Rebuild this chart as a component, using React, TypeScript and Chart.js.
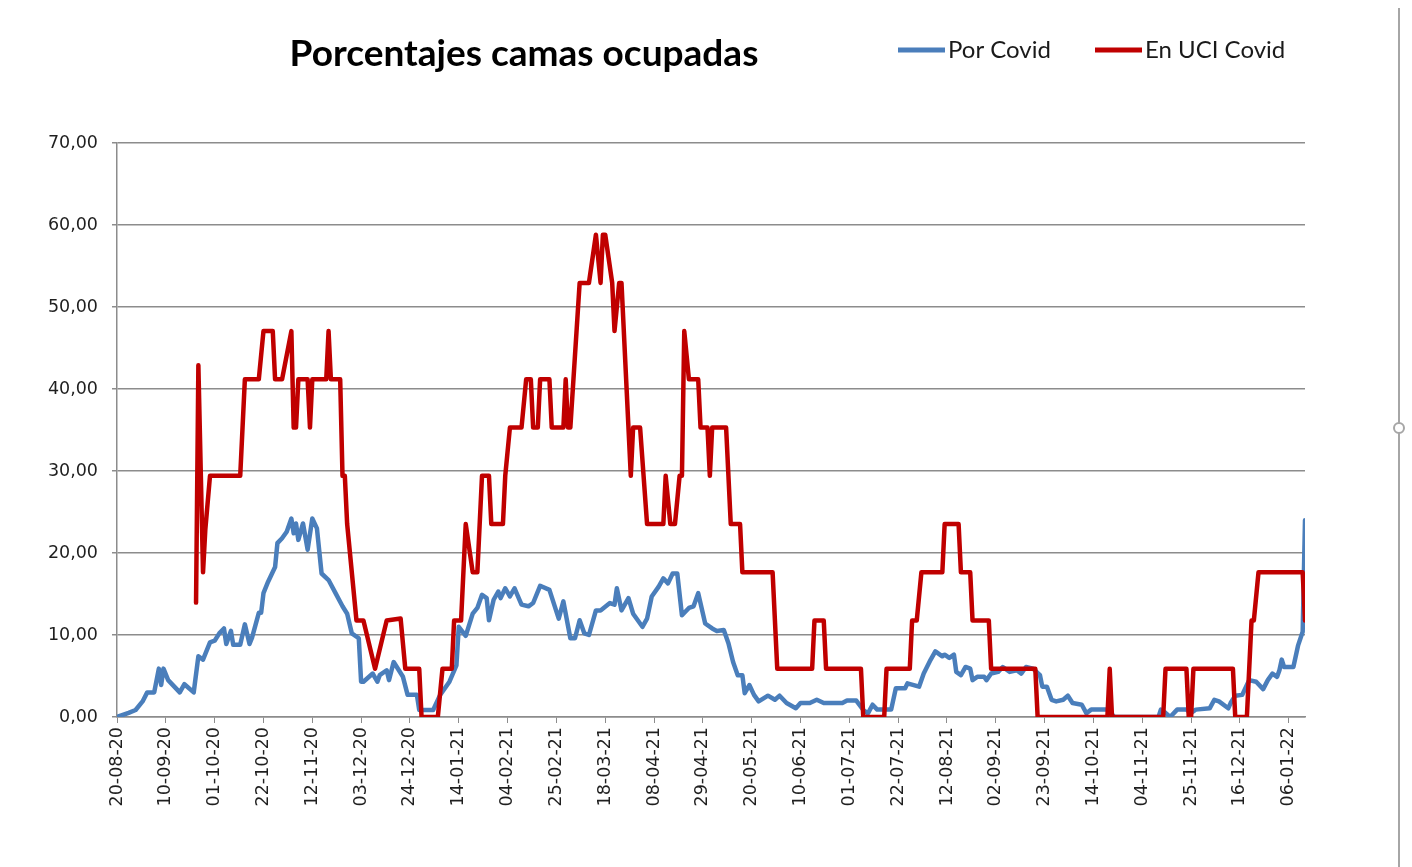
import React, { useEffect, useRef } from "react";
import { Chart, registerables } from "chart.js";

Chart.register(...registerables);

const TITLE = "Porcentajes camas ocupadas";
const SERIES_NAMES = ["Por Covid", "En UCI Covid"];
const SERIES_COLORS = ["#4A7EBB", "#C00000"];

// x axis: days since 20-08-20
const tickDays = [0, 21, 42, 63, 84, 105, 126, 147, 168, 189, 210, 231, 252, 273, 294, 315, 336, 357, 378, 399, 420, 441, 462, 483, 504];
const tickLabels = [
  "20-08-20", "10-09-20", "01-10-20", "22-10-20", "12-11-20", "03-12-20", "24-12-20",
  "14-01-21", "04-02-21", "25-02-21", "18-03-21", "08-04-21", "29-04-21", "20-05-21",
  "10-06-21", "01-07-21", "22-07-21", "12-08-21", "02-09-21", "23-09-21", "14-10-21",
  "04-11-21", "25-11-21", "16-12-21", "06-01-22",
];
const yTicks = [0, 10, 20, 30, 40, 50, 60, 70];

// Series 1: Por Covid
const porCovidDays = [
  0, 5, 8, 11, 13, 16, 18, 19, 20, 22, 27, 29, 33, 35, 37, 40, 42, 44, 46, 47, 49, 50, 53, 55, 57, 58,
  61, 62, 63, 65, 68, 69, 71, 73, 75, 76, 77, 78, 80, 82, 84, 86, 88, 91, 94, 97, 99, 101, 104, 105,
  106, 110, 112, 113, 116, 117, 119, 123, 125, 129, 130, 136, 139, 143, 146, 147, 150, 153, 155, 157,
  159, 160, 162, 164, 165, 167, 169, 171, 174, 177, 179, 182, 186, 190, 192, 195, 197, 199, 201, 203,
  206, 208, 212, 214, 215, 217, 220, 222, 226, 228, 230, 233, 235, 237, 239, 241, 243, 246, 248, 250,
  253, 256, 258, 261, 263, 265, 267, 269, 270, 272, 274, 276, 280, 283, 285, 288, 292, 294, 298, 301,
  304, 312, 314, 318, 321, 323, 325, 327, 333, 335, 339, 340, 345, 347, 350, 352, 355, 356, 358, 360,
  361, 363, 365, 367, 368, 370, 373, 374, 376, 379, 381, 384, 387, 389, 391, 394, 397, 398, 400, 402,
  404, 407, 409, 411, 415, 417, 419, 426, 427, 429, 448, 449, 451, 453, 456, 460, 462, 464, 470, 472,
  474, 478, 479, 481, 484, 486, 487, 490, 493, 495, 497, 499, 500, 501, 502, 506, 508, 510, 511,
];
const porCovidValues = [
  0, 0.5, 0.85, 1.9, 3.0, 3.0, 5.9, 3.9, 5.9, 4.5, 3.0, 4.0, 3.0, 7.4, 7.0, 9.1, 9.3, 10.2, 10.8, 8.9, 10.5, 8.8, 8.8, 11.3, 8.9, 9.6,
  12.7, 12.7, 15.1, 16.5, 18.3, 21.2, 21.8, 22.6, 24.2, 22.4, 23.6, 21.6, 23.6, 20.4, 24.2, 23.0, 17.5, 16.7, 15.1, 13.5, 12.6, 10.2, 9.6, 4.3,
  4.3, 5.3, 4.3, 5.1, 5.7, 4.5, 6.7, 4.9, 2.7, 2.7, 0.85, 0.85, 2.7, 4.3, 6.3, 11.0, 9.9, 12.6, 13.3, 14.9,
  14.5, 11.8, 14.3, 15.3, 14.5, 15.7, 14.7, 15.7, 13.7, 13.5, 13.9, 16.0, 15.5, 12.0, 14.1, 9.6, 9.6, 11.8, 10.2, 10.0,
  13.0, 13.0, 13.9, 13.7, 15.7, 13.0, 14.5, 12.6, 11.0, 12.0, 14.7, 15.9, 16.9, 16.3, 17.5, 17.5, 12.4, 13.3, 13.5, 15.1,
  11.4, 10.8, 10.5, 10.6, 9.0, 6.7, 5.1, 5.1, 2.9, 3.9, 2.7, 1.9, 2.6, 2.1, 2.6, 1.7, 1.06, 1.7, 1.7, 2.1,
  1.7, 1.7, 2.0, 2.0, 0.85, 0.45, 1.5, 0.9, 0.9, 3.5, 3.5, 4.1, 3.7, 5.3, 7.0, 8.0, 7.4, 7.6, 7.2, 7.6,
  5.5, 5.1, 6.1, 5.9, 4.5, 4.9, 4.9, 4.5, 5.3, 5.5, 6.1, 5.5, 5.7, 5.3, 6.1, 5.9, 5.1, 3.7, 3.7, 2.1,
  1.9, 2.1, 2.6, 1.7, 1.5, 0.45, 0.9, 0.9, 0.65, 0, 0, 0.9, 0.5, 0, 0.9, 0.9, 0.5, 0.9, 1.06, 2.1,
  1.9, 1.06, 1.7, 2.6, 2.7, 3.9, 4.5, 4.3, 3.4, 4.5, 5.3, 4.9, 5.7, 7.0, 6.1, 6.1, 8.7, 10.4, 24.0,
];

// Series 2: En UCI Covid
const uciDays = [
  34, 35, 37, 38, 40, 53, 55, 61, 63, 67, 68, 71, 75, 76, 77, 78, 82, 83, 84, 90, 91, 92, 96, 97,
  98, 99, 103, 106, 111, 116, 122, 124, 130, 131, 138, 140, 144, 145, 148, 150, 153, 155, 157, 160,
  161, 166, 167, 169, 174, 176, 178, 179, 181, 182, 186, 187, 192, 193, 194, 195, 199, 203, 206, 208,
  209, 210, 213, 214, 216, 217, 221, 222, 225, 228, 235, 236, 238, 240, 242, 243, 244, 246, 250, 251,
  254, 255, 256, 262, 264, 268, 269, 282, 284, 299, 300, 304, 305, 320, 321, 330, 331, 341, 342, 344,
  346, 355, 356, 362, 363, 367, 368, 375, 376, 395, 396, 426, 427, 428, 450, 451, 460, 461, 462, 463,
  480, 481, 486, 488, 489, 491, 510, 511,
];
const uciValues = [
  13.95, 42.9, 17.65, 22.9, 29.41, 29.41, 41.18, 41.18, 47.06, 47.06, 41.18, 41.18, 47.06, 35.29, 35.29, 41.18, 41.18, 35.29, 41.18, 41.18, 47.06, 41.18, 41.18, 29.41,
  29.41, 23.53, 11.76, 11.76, 5.88, 11.76, 12.0, 5.88, 5.88, 0, 0, 5.88, 5.88, 11.76, 11.76, 23.53, 17.65, 17.65, 29.41, 29.41,
  23.53, 23.53, 29.41, 35.29, 35.29, 41.18, 41.18, 35.29, 35.29, 41.18, 41.18, 35.29, 35.29, 41.18, 35.29, 35.29, 52.94, 52.94, 58.82, 52.94,
  58.82, 58.82, 52.94, 47.06, 52.94, 52.94, 29.41, 35.29, 35.29, 23.53, 23.53, 29.41, 23.53, 23.53, 29.41, 29.41, 47.06, 41.18, 41.18, 35.29,
  35.29, 29.41, 35.29, 35.29, 23.53, 23.53, 17.65, 17.65, 5.88, 5.88, 11.76, 11.76, 5.88, 5.88, 0, 0, 5.88, 5.88, 11.76, 11.76,
  17.65, 17.65, 23.53, 23.53, 17.65, 17.65, 11.76, 11.76, 5.88, 5.88, 0, 0, 5.88, 0, 0, 5.88, 5.88, 0, 0, 5.88,
  5.88, 0, 0, 11.76, 11.76, 17.65, 17.65, 11.76,
];

const toPoints = (days: number[], values: number[]) => days.map((d, i) => ({ x: d, y: values[i] }));

const W = 1412;
const H = 867;

const overlayPlugin = {
  id: "overlay",
  afterDraw(chart: any) {
    const ctx = chart.ctx as CanvasRenderingContext2D;
    ctx.save();
    // Title
    ctx.fillStyle = "#000000";
    ctx.font = "bold 37px Lato";
    ctx.textAlign = "center";
    ctx.textBaseline = "alphabetic";
    ctx.fillText(TITLE, 524, 66);
    // Legend
    const legendItems = [
      { x: 898, name: SERIES_NAMES[0], color: SERIES_COLORS[0] },
      { x: 1095, name: SERIES_NAMES[1], color: SERIES_COLORS[1] },
    ];
    ctx.font = "24px Lato";
    ctx.textAlign = "left";
    for (const it of legendItems) {
      ctx.strokeStyle = it.color;
      ctx.lineWidth = 5;
      ctx.lineCap = "butt";
      ctx.beginPath();
      ctx.moveTo(it.x, 50);
      ctx.lineTo(it.x + 47, 50);
      ctx.stroke();
      ctx.fillStyle = "#1a1a1a";
      ctx.fillText(it.name, it.x + 50, 58);
    }
    // Sheet frame line and handle on the right
    ctx.strokeStyle = "#a6a6a6";
    ctx.lineWidth = 2;
    ctx.beginPath();
    ctx.moveTo(1399, 8);
    ctx.lineTo(1399, H);
    ctx.stroke();
    ctx.fillStyle = "#ffffff";
    ctx.beginPath();
    ctx.arc(1399, 428, 5, 0, Math.PI * 2);
    ctx.fill();
    ctx.stroke();
    ctx.restore();
  },
};

export default function App() {
  const canvasRef = useRef<HTMLCanvasElement | null>(null);

  useEffect(() => {
    const canvas = canvasRef.current;
    if (!canvas) return;
    const chart = new Chart(canvas, {
      type: "line",
      data: {
        datasets: [
          {
            label: SERIES_NAMES[0],
            data: toPoints(porCovidDays, porCovidValues),
            borderColor: SERIES_COLORS[0],
            backgroundColor: SERIES_COLORS[0],
            borderWidth: 4.5,
            pointRadius: 0,
            tension: 0,
            borderJoinStyle: "round",
            borderCapStyle: "round",
            order: 2,
          },
          {
            label: SERIES_NAMES[1],
            data: toPoints(uciDays, uciValues),
            borderColor: SERIES_COLORS[1],
            backgroundColor: SERIES_COLORS[1],
            borderWidth: 4.5,
            pointRadius: 0,
            tension: 0,
            borderJoinStyle: "round",
            borderCapStyle: "round",
            order: 1,
          },
        ],
      },
      options: {
        responsive: false,
        animation: false,
        devicePixelRatio: 1,
        layout: { padding: { top: 143, right: 107, left: 0, bottom: 0 } },
        plugins: {
          legend: { display: false },
          title: { display: false },
          tooltip: { enabled: false },
        },
        scales: {
          x: {
            type: "linear",
            min: 0,
            max: 511,
            afterBuildTicks: (scale: any) => {
              scale.ticks = tickDays.map((v) => ({ value: v }));
            },
            afterFit: (scale: any) => {
              scale.height = 150;
            },
            grid: {
              display: true,
              drawOnChartArea: false,
              drawTicks: true,
              tickLength: 6,
              color: "#8c8c8c",
            },
            border: { display: true, color: "#8c8c8c", width: 1.5 },
            ticks: {
              autoSkip: false,
              minRotation: 90,
              maxRotation: 90,
              padding: 4,
              color: "#1f1f1f",
              font: { family: "DejaVu Sans", size: 17.5 },
              callback: (value: any) => {
                const i = tickDays.indexOf(Number(value));
                return i >= 0 ? tickLabels[i] : "";
              },
            },
          },
          y: {
            type: "linear",
            min: 0,
            max: 70,
            afterBuildTicks: (scale: any) => {
              scale.ticks = yTicks.map((v) => ({ value: v }));
            },
            afterFit: (scale: any) => {
              scale.width = 117;
            },
            grid: {
              color: "#8c8c8c",
              lineWidth: 1.5,
              drawTicks: true,
              tickLength: 5,
            },
            border: { display: true, color: "#8c8c8c", width: 1.5 },
            ticks: {
              padding: 14,
              color: "#1f1f1f",
              font: { family: "DejaVu Sans", size: 17.5 },
              callback: (value: any) => Number(value).toFixed(2).replace(".", ","),
            },
          },
        },
      },
      plugins: [overlayPlugin],
    });
    return () => chart.destroy();
  }, []);

  return (
    <div style={{ position: "fixed", left: 0, top: 0, width: W, height: H, background: "#ffffff" }}>
      <canvas ref={canvasRef} width={W} height={H} style={{ display: "block", width: W, height: H }} />
    </div>
  );
}
